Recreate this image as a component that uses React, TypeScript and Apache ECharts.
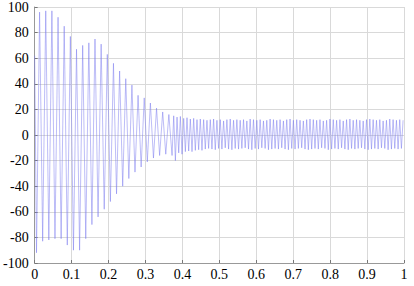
import React, { useEffect, useRef } from "react";
import * as echarts from "echarts";

// Reading of the waveform: alternating extrema (trough, then peak, per cycle)
const START_VALUE = 62;
const EARLY_START = 0.005;
const EARLY_HALF_PERIOD = 1 / 120;
const earlyTroughs = [-92, -83, -82, -81, -81, -86, -90, -90, -81, -70, -64, -58, -52, -46, -40, -34, -29, -25, -21, -18, -16, -15];
const earlyPeaks = [96, 97, 97, 92, 85, 77, 67, 70, 72, 75, 71, 63, 56, 50, 44, 39, 31, 29, 25, 21, 18, 16];

const LATE_START = 0.372;
const LATE_HALF_PERIOD = 0.0045;
const latePeaks = [
  15, 14, 14.5, 13, 13.5, 12.5, 13, 12, 12.5, 12,
  11.5, 12, 12.5, 11.5, 12, 11, 12, 12.5, 11.5, 12,
  11.5, 12, 11, 12.5, 12, 11.5, 12, 11, 11.5, 12.5,
  12, 11.5, 12, 11, 12, 12.5, 11.5, 12, 11.5, 11,
  12, 12.5, 12, 11.5, 12, 11, 11.5, 12.5, 12, 11.5,
  12, 11, 12, 12.5, 11.5, 12, 11.5, 11, 12, 12.5,
  12, 11.5, 12, 11, 11.5, 12.5, 12, 11.5, 12, 11.5,
];
const lateTroughs = [
  -16, -20, -14, -15, -13, -12.5, -13, -12, -11.5, -12,
  -11, -10.5, -11, -11.5, -10.5, -11, -10, -11, -11.5, -10.5,
  -11, -10.5, -10, -11, -11.5, -10.5, -11, -10, -10.5, -11.5,
  -11, -10.5, -11, -10, -11, -11.5, -10.5, -11, -10.5, -10,
  -11, -11.5, -11, -10.5, -11, -10, -10.5, -11.5, -11, -10.5,
  -11, -10, -11, -11.5, -10.5, -11, -10.5, -10, -11, -11.5,
  -11, -10.5, -11, -10, -10.5, -11.5, -11, -10.5, -11, -10.5,
];

const xTicks = { min: 0, max: 1, interval: 0.1 };
const yTicks = { min: -100, max: 100, interval: 20 };

function buildSeries(): [number, number][] {
  const pts: [number, number][] = [[0, START_VALUE]];
  earlyTroughs.forEach((tv, k) => {
    pts.push([EARLY_START + 2 * k * EARLY_HALF_PERIOD, tv]);
    pts.push([EARLY_START + (2 * k + 1) * EARLY_HALF_PERIOD, earlyPeaks[k]]);
  });
  lateTroughs.forEach((tv, k) => {
    pts.push([LATE_START + 2 * k * LATE_HALF_PERIOD, tv]);
    pts.push([LATE_START + (2 * k + 1) * LATE_HALF_PERIOD, latePeaks[k]]);
  });
  return pts;
}

const SERIF = "serif";

export default function App() {
  const ref = useRef<HTMLDivElement>(null);
  useEffect(() => {
    if (!ref.current) return;
    const chart = echarts.init(ref.current, undefined, { renderer: "svg" });
    chart.setOption({
      animation: false,
      backgroundColor: "#fff",
      textStyle: { fontFamily: SERIF, fontSize: 14, color: "#000" },
      grid: { left: 30, right: 10, top: 5, bottom: 23, containLabel: false },
      xAxis: {
        type: "value",
        ...xTicks,
        axisLine: { show: true, onZero: false, lineStyle: { color: "#999", width: 1 } },
        axisTick: { show: true, inside: true, length: 3, lineStyle: { color: "#777" } },
        splitLine: { show: true, lineStyle: { color: "#d9d9d9", width: 1 } },
        axisLabel: { fontFamily: SERIF, fontSize: 14, color: "#000", margin: 4 },
      },
      yAxis: {
        type: "value",
        ...yTicks,
        axisLine: { show: true, onZero: false, lineStyle: { color: "#999", width: 1 } },
        axisTick: { show: true, inside: true, length: 3, lineStyle: { color: "#777" } },
        splitLine: { show: true, lineStyle: { color: "#d9d9d9", width: 1 } },
        axisLabel: { fontFamily: SERIF, fontSize: 14, color: "#000", margin: 6 },
      },
      series: [
        {
          type: "line",
          data: buildSeries(),
          showSymbol: false,
          symbol: "none",
          lineStyle: { color: "#7a7aee", width: 0.5 },
        },
      ],
    });
    return () => chart.dispose();
  }, []);
  return (
    <div
      ref={ref}
      style={{ position: "fixed", left: 0, top: 0, width: 414, height: 286, background: "#fff" }}
    />
  );
}
